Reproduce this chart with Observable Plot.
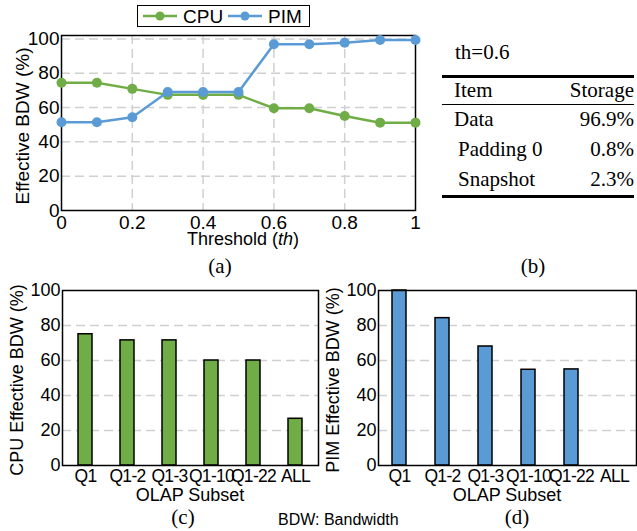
<!DOCTYPE html>
<html><head><meta charset="utf-8">
<script src="https://cdn.jsdelivr.net/npm/d3@7"></script>
<script src="https://cdn.jsdelivr.net/npm/@observablehq/plot@0.6"></script>
<style>
body{margin:0;background:#fff;}
#root{position:relative;width:637px;height:531px;overflow:hidden;font-family:"Liberation Sans",Arial,sans-serif;color:#000;}
.abs{position:absolute;white-space:nowrap;line-height:1;}
.serif{font-family:"Liberation Serif","Times New Roman",serif;}
.rot{transform:translate(-50%,-50%) rotate(-90deg);}
.ctr{transform:translate(-50%,-50%);}
.rule{position:absolute;background:#000;}
</style></head><body><div id="root"></div>
<script>
// ---- data ----
const thresholds = [0, 0.1, 0.2, 0.3, 0.4, 0.5, 0.6, 0.7, 0.8, 0.9, 1.0];
const cpuBDW = [74.5, 74.5, 70.9, 67.4, 67.4, 67.4, 59.6, 59.6, 55.1, 51.2, 51.2];
const pimBDW = [51.4, 51.4, 54.3, 69.1, 69.1, 69.1, 96.9, 96.9, 97.8, 99.4, 99.4];
const subsets = ["Q1", "Q1-2", "Q1-3", "Q1-10", "Q1-22", "ALL"];
const cpuSubsetBDW = [75, 71.5, 71.5, 60, 60, 26.7];
const pimSubsetBDW = [100, 84.2, 68, 54.7, 54.9, 0];
const yTicks = [0, 20, 40, 60, 80, 100];
const xTicks = [0, 0.2, 0.4, 0.6, 0.8, 1];
const tableItems = ["Data", "Padding 0", "Snapshot"];
const tableStorage = ["96.9%", "0.8%", "2.3%"];

const GREEN = "#70AD47", BLUE = "#5B9BD5";
const root = document.getElementById("root");
const gridStyle = {stroke: "#d0d0d0", strokeOpacity: 1, strokeWidth: 1.5, strokeDasharray: "9,5"};
const plotStyle = {fontFamily: '"Liberation Sans", Arial, sans-serif', fontSize: "19px", color: "#000", background: "transparent", overflow: "visible"};

function place(el, left, top) {
  el.style.position = "absolute"; el.style.left = left + "px"; el.style.top = top + "px";
  root.appendChild(el);
}
function txt(html, x, y, cls, size) {
  const d = document.createElement("div");
  d.className = "abs " + (cls || "ctr");
  d.innerHTML = html;
  d.style.left = x + "px"; d.style.top = y + "px";
  d.style.fontSize = size + "px";
  root.appendChild(d);
  return d;
}

// ---- (a) line chart ----
const rowsA = thresholds.map((t, i) => ({t, cpu: cpuBDW[i], pim: pimBDW[i]}));
const chartA = Plot.plot({
  width: 430, height: 255,
  marginLeft: 61, marginRight: 15, marginTop: 35, marginBottom: 45,
  style: plotStyle,
  x: {domain: [0, 1]},
  y: {domain: [0, 102]},
  marks: [
    Plot.gridX({ticks: [0.2, 0.4, 0.6, 0.8], ...gridStyle}),
    Plot.gridY({ticks: [20, 40, 60, 80, 100], ...gridStyle}),
    Plot.frame({stroke: "#000", strokeWidth: 1.5}),
    Plot.axisY({ticks: yTicks, tickSize: 0, tickPadding: 2, label: null, fontSize: 19}),
    Plot.axisX({ticks: xTicks, tickSize: 0, tickPadding: 5, label: null, fontSize: 19, tickFormat: d3.format("~g")}),
    Plot.line(rowsA, {x: "t", y: "cpu", stroke: GREEN, strokeWidth: 2.5}),
    Plot.dot(rowsA, {x: "t", y: "cpu", r: 5, fill: GREEN}),
    Plot.line(rowsA, {x: "t", y: "pim", stroke: BLUE, strokeWidth: 2.5}),
    Plot.dot(rowsA, {x: "t", y: "pim", r: 5, fill: BLUE})
  ]
});
place(chartA, 0, 0);
txt("Effective BDW (%)", 22, 126, "rot", 19);
txt('Threshold (<i>th</i>)', 243, 239, "ctr", 18);

// legend
const leg = document.createElement("div");
leg.style.cssText = "position:absolute;left:137px;top:5px;width:171px;height:20px;border:1.5px solid #000;background:#fff;";
leg.innerHTML = `<svg width="171" height="20" style="position:absolute;left:0;top:0">
<line x1="5" y1="10" x2="39" y2="10" stroke="${GREEN}" stroke-width="2.5"/><circle cx="22" cy="10" r="4.5" fill="${GREEN}"/>
<text x="45" y="17" font-size="19" font-family="Liberation Sans, Arial">CPU</text>
<line x1="90" y1="10" x2="124" y2="10" stroke="${BLUE}" stroke-width="2.5"/><circle cx="107" cy="10" r="4.5" fill="${BLUE}"/>
<text x="130" y="17" font-size="19" font-family="Liberation Sans, Arial">PIM</text></svg>`;
root.appendChild(leg);

// ---- (b) table ----
txt("th=0.6", 455, 52, "serif", 21).style.transform = "translate(0,-50%)";
const rule = (top, h) => { const r = document.createElement("div"); r.className = "rule"; r.style.left = "442px"; r.style.width = "192px"; r.style.top = top + "px"; r.style.height = h + "px"; root.appendChild(r); };
rule(74.5, 3); rule(103.5, 1.5); rule(194.5, 3);
txt("Item", 454, 90, "serif", 21).style.transform = "translate(0,-50%)";
txt("Storage", 634, 90, "serif", 21).style.transform = "translate(-100%,-50%)";
tableItems.forEach((it, i) => {
  const y = 119 + i * 30;
  txt(it, i === 0 ? 454 : 458, y, "serif", 21).style.transform = "translate(0,-50%)";
  txt(tableStorage[i], 634, y, "serif", 21).style.transform = "translate(-100%,-50%)";
});

// ---- (c), (d) bar charts ----
function barChart(values, color, width, mLeft, mRight) {
  const rows = subsets.map((k, i) => ({k, v: values[i]}));
  const c = Plot.plot({
    width, height: 231,
    marginLeft: mLeft, marginRight: mRight, marginTop: 20, marginBottom: 36,
    style: plotStyle,
    x: {domain: subsets, paddingInner: 0.67, paddingOuter: 0.335},
    y: {domain: [0, 100]},
    marks: [
      Plot.gridY({ticks: [20, 40, 60, 80], ...gridStyle}),
      Plot.barY(rows.filter(d => d.v > 0), {x: "k", y: "v", fill: color, stroke: "#000", strokeWidth: 1.5}),
      Plot.frame({stroke: "#000", strokeWidth: 1.5}),
      Plot.axisY({ticks: yTicks, tickSize: 0, tickPadding: 2, label: null, fontSize: 18}),
      Plot.axisX({tickSize: 0, tickPadding: 4, label: null, fontSize: 17.5})
    ]
  });
  c.querySelectorAll('g[aria-label="x-axis tick label"] text').forEach(t => t.style.letterSpacing = "-0.7px");
  return c;
}
place(barChart(cpuSubsetBDW, GREEN, 320, 62, 2), 0, 270);
place(barChart(pimSubsetBDW, BLUE, 319, 60, 1), 318, 270);
txt("CPU Effective BDW (%)", 17, 380, "rot", 18);
txt("PIM Effective BDW (%)", 333, 380, "rot", 18);
txt("OLAP Subset", 190, 495, "ctr", 18);
txt("OLAP Subset", 507, 495, "ctr", 18);

// captions
txt("(a)", 220, 266, "serif ctr", 21);
txt("(b)", 533, 266, "serif ctr", 21);
txt("(c)", 183, 517, "serif ctr", 21);
txt("(d)", 517, 517, "serif ctr", 21);
txt("BDW: Bandwidth", 278, 520, "abs", 16).style.transform = "translate(0,-50%)";
</script></body></html>
